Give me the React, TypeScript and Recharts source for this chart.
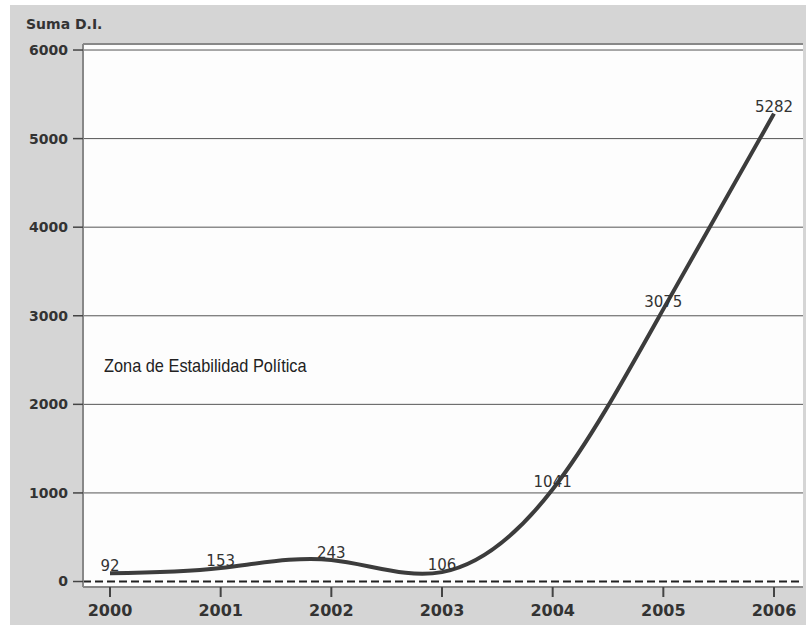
import React from 'react';
import {
  LineChart, Line, XAxis, YAxis, CartesianGrid, ReferenceLine, LabelList,
} from 'recharts';

// Suma D.I. per year
const years = [2000, 2001, 2002, 2003, 2004, 2005, 2006];
const sumaDI = [92, 153, 243, 106, 1041, 3075, 5282];
const yTicks = [0, 1000, 2000, 3000, 4000, 5000, 6000];

const data = years.map((y, i) => ({ year: y, value: sumaDI[i] }));

const X_DOMAIN = [1999.756, 2006.262];
const Y_DOMAIN = [-62, 6068];

export default function App() {
  return (
    <div style={{ position: 'absolute', left: 0, top: 0, width: 806, height: 625, background: '#fff' }}>
      <div style={{ position: 'absolute', left: 10, top: 5, width: 796, height: 620, background: '#d5d5d5' }} />
      <div style={{ position: 'absolute', left: 26, top: 17, fontFamily: 'DejaVu Sans', fontWeight: 700, fontSize: 14, lineHeight: '14px', color: '#333' }}>
        Suma D.I.
      </div>
      <div style={{ position: 'absolute', left: 0, top: 0 }}>
        <LineChart width={806} height={625} data={data} margin={{ top: 44, right: 3, bottom: 0, left: 0 }}>
          <CartesianGrid
            fill="#fdfdfd"
            vertical={false}
            stroke="#555"
            horizontalValues={[1000, 2000, 3000, 4000, 5000, 6000]}
          />
          <XAxis
            dataKey="year"
            type="number"
            domain={X_DOMAIN}
            ticks={years}
            allowDataOverflow
            tick={{ fontFamily: 'DejaVu Sans', fontWeight: 700, fontSize: 16, fill: '#333' }}
            tickSize={10}
            tickMargin={8}
            axisLine={{ stroke: '#888', strokeWidth: 2 }}
            tickLine={{ stroke: '#444', strokeWidth: 2 }}
            height={38}
          />
          <YAxis
            domain={Y_DOMAIN}
            ticks={yTicks}
            allowDataOverflow
            tick={{ fontFamily: 'DejaVu Sans', fontWeight: 700, fontSize: 14, fill: '#333' }}
            tickSize={10}
            tickMargin={5}
            width={83}
            axisLine={{ stroke: '#888', strokeWidth: 2 }}
            tickLine={{ stroke: '#444', strokeWidth: 1.5 }}
          />
          <YAxis yAxisId="right" orientation="right" domain={Y_DOMAIN} tick={false} tickLine={false}
            axisLine={{ stroke: '#888', strokeWidth: 2 }} width={0} />
          <ReferenceLine y={Y_DOMAIN[1]} stroke="#888" strokeWidth={2} ifOverflow="extendDomain" />
          <ReferenceLine y={0} stroke="#222" strokeWidth={2} strokeDasharray="8 4" />
          <Line
            type="natural"
            dataKey="value"
            stroke="#3c3c3c"
            strokeWidth={4}
            dot={false}
            isAnimationActive={false}
          >
            <LabelList dataKey="value" position="top" offset={2}
              style={{ fontFamily: 'DejaVu Sans', fontSize: 15, fill: '#333' }} />
          </Line>
        </LineChart>
      </div>
      <div style={{
        position: 'absolute', left: 104, top: 356, fontFamily: 'Liberation Sans', fontSize: 19, lineHeight: '19px',
        color: '#222', whiteSpace: 'nowrap', transform: 'scaleX(0.86)', transformOrigin: 'left top',
      }}>
        Zona de Estabilidad Política
      </div>
    </div>
  );
}
